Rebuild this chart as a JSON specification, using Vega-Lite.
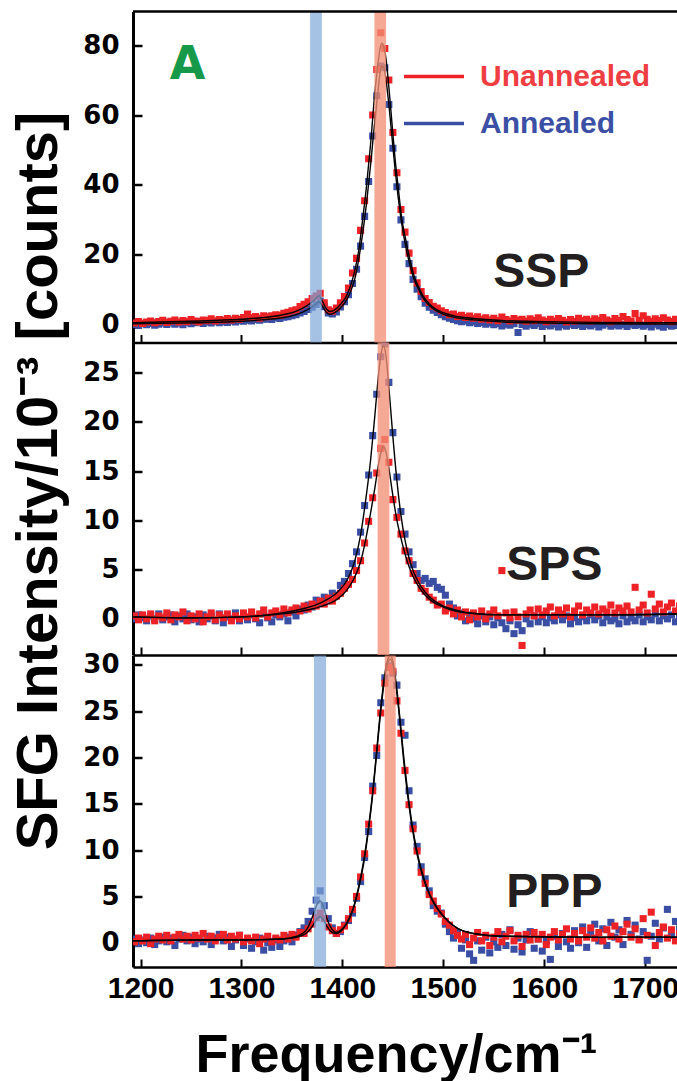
{
"$schema": "https://vega.github.io/schema/vega-lite/v6.json",
"padding": {"left": 9, "top": 9.5, "right": 0, "bottom": 0},
"autosize": {"type": "pad"},
"spacing": 0,
"bounds": "flush",
"resolve": {"legend": {"color": "independent"}},
"config": {
  "font": "Liberation Sans",
  "view": {"stroke": null},
  "axis": {"grid": false, "domainColor": "black", "tickColor": "black", "labelColor": "black", "titleColor": "black", "labelFont": "Liberation Sans", "titleFont": "Liberation Sans"}
},
"datasets": {
"d1": [
{"x":1194,"U":0.5,"A":0.1},{"x":1198,"U":0.9,"A":-0.2},{"x":1202,"U":0.4,"A":0.3},{"x":1206,"U":0.8,"A":0.0},{"x":1210,"U":1.1,"A":0.4},{"x":1214,"U":0.6,"A":-0.1},{"x":1218,"U":0.9,"A":0.2},{"x":1222,"U":1.3,"A":0.5},{"x":1226,"U":0.7,"A":0.1},{"x":1230,"U":1.0,"A":0.6},{"x":1234,"U":1.4,"A":0.2},{"x":1238,"U":0.8,"A":0.5},{"x":1242,"U":1.2,"A":0.0},{"x":1246,"U":0.9,"A":0.7},{"x":1250,"U":1.5,"A":0.3},{"x":1254,"U":1.1,"A":0.6},{"x":1258,"U":0.8,"A":0.9},{"x":1262,"U":1.4,"A":0.4},{"x":1266,"U":1.2,"A":0.8},{"x":1270,"U":1.7,"A":0.5},{"x":1274,"U":1.1,"A":1.0},{"x":1278,"U":1.5,"A":0.6},{"x":1282,"U":1.3,"A":0.9},{"x":1286,"U":1.8,"A":0.7},{"x":1290,"U":1.4,"A":1.1},{"x":1294,"U":1.9,"A":0.8},{"x":1298,"U":1.6,"A":1.2},{"x":1302,"U":2.1,"A":1.0},{"x":1306,"U":3.1,"A":1.3},{"x":1310,"U":2.0,"A":1.1},{"x":1314,"U":2.4,"A":1.5},{"x":1318,"U":1.9,"A":1.3},{"x":1322,"U":2.6,"A":1.6},{"x":1326,"U":2.3,"A":1.7},{"x":1330,"U":2.6,"A":1.5},{"x":1334,"U":2.9,"A":2.0},{"x":1338,"U":2.7,"A":1.8},{"x":1342,"U":3.3,"A":2.2},{"x":1346,"U":3.6,"A":2.3},{"x":1350,"U":4.0,"A":2.6},{"x":1354,"U":4.3,"A":2.9},{"x":1358,"U":5.2,"A":3.4},{"x":1362,"U":5.9,"A":3.8},{"x":1366,"U":6.6,"A":4.4},{"x":1370,"U":7.5,"A":5.0},{"x":1374,"U":8.2,"A":5.8},{"x":1378,"U":9.0,"A":6.8},{"x":1382,"U":6.3,"A":5.2},{"x":1386,"U":4.3,"A":3.4},{"x":1390,"U":3.9,"A":3.1},{"x":1394,"U":4.8,"A":3.7},{"x":1398,"U":6.3,"A":5.1},{"x":1402,"U":8.1,"A":6.6},{"x":1406,"U":10.5,"A":8.6},{"x":1410,"U":14.8,"A":11.8},{"x":1414,"U":19.0,"A":15.9},{"x":1418,"U":27.0,"A":22.5},{"x":1422,"U":35.5,"A":31.0},{"x":1426,"U":47.5,"A":41.0},{"x":1430,"U":60.0,"A":54.0},{"x":1434,"U":73.0,"A":65.5},{"x":1438,"U":83.5,"A":74.0},{"x":1442,"U":79.0,"A":73.5},{"x":1446,"U":70.0,"A":63.0},{"x":1450,"U":55.0,"A":50.5},{"x":1454,"U":43.5,"A":39.5},{"x":1458,"U":33.0,"A":30.0},{"x":1462,"U":26.5,"A":23.0},{"x":1466,"U":20.5,"A":17.5},{"x":1470,"U":15.5,"A":13.0},{"x":1474,"U":12.0,"A":10.2},{"x":1478,"U":9.5,"A":8.0},{"x":1482,"U":7.5,"A":6.2},{"x":1486,"U":6.4,"A":5.0},{"x":1490,"U":5.3,"A":4.2},{"x":1494,"U":4.8,"A":3.5},{"x":1498,"U":4.0,"A":2.9},{"x":1502,"U":3.5,"A":2.3},{"x":1506,"U":2.9,"A":1.9},{"x":1510,"U":3.1,"A":1.5},{"x":1514,"U":2.4,"A":1.2},{"x":1518,"U":2.7,"A":0.9},{"x":1522,"U":2.1,"A":1.1},{"x":1526,"U":2.5,"A":0.6},{"x":1530,"U":1.9,"A":0.8},{"x":1534,"U":2.3,"A":0.4},{"x":1538,"U":1.6,"A":0.7},{"x":1542,"U":2.0,"A":0.2},{"x":1546,"U":1.4,"A":0.5},{"x":1550,"U":1.9,"A":0.0},{"x":1554,"U":1.2,"A":0.4},{"x":1558,"U":2.2,"A":-0.3},{"x":1562,"U":1.5,"A":0.2},{"x":1566,"U":1.1,"A":-0.1},{"x":1570,"U":1.8,"A":0.3},{"x":1574,"U":1.3,"A":-2.2},{"x":1578,"U":1.6,"A":0.1},{"x":1582,"U":1.0,"A":-0.4},{"x":1586,"U":1.7,"A":0.2},{"x":1590,"U":1.2,"A":-0.2},{"x":1594,"U":2.0,"A":0.3},{"x":1598,"U":1.4,"A":-0.5},{"x":1602,"U":0.9,"A":0.1},{"x":1606,"U":1.6,"A":-0.3},{"x":1610,"U":1.1,"A":0.2},{"x":1614,"U":1.8,"A":-0.6},{"x":1618,"U":1.3,"A":0.0},{"x":1622,"U":0.8,"A":-0.4},{"x":1626,"U":1.5,"A":0.2},{"x":1630,"U":1.0,"A":-0.2},{"x":1634,"U":1.9,"A":0.1},{"x":1638,"U":1.2,"A":-0.5},{"x":1642,"U":1.6,"A":0.0},{"x":1646,"U":1.0,"A":-0.3},{"x":1650,"U":1.7,"A":0.2},{"x":1654,"U":1.3,"A":-0.6},{"x":1658,"U":2.1,"A":-0.1},{"x":1662,"U":1.4,"A":0.3},{"x":1666,"U":0.9,"A":-0.4},{"x":1670,"U":1.8,"A":0.0},{"x":1674,"U":1.2,"A":-0.3},{"x":1678,"U":2.4,"A":0.1},{"x":1682,"U":1.5,"A":-0.5},{"x":1686,"U":1.1,"A":0.2},{"x":1690,"U":3.2,"A":-0.2},{"x":1694,"U":1.3,"A":0.1},{"x":1698,"U":2.6,"A":-0.4},{"x":1702,"U":1.6,"A":0.0},{"x":1706,"U":1.0,"A":-0.6},{"x":1710,"U":1.7,"A":0.2},{"x":1714,"U":1.2,"A":-0.3},{"x":1718,"U":2.0,"A":-0.7},{"x":1722,"U":1.4,"A":0.1},{"x":1726,"U":0.9,"A":-0.4},{"x":1730,"U":1.6,"A":-0.2},{"x":1734,"U":1.2,"A":0.0}
],
"f1": [
{"x":1192,"U":0.6,"A":0.3},{"x":1220,"U":0.8,"A":0.4},{"x":1260,"U":1.1,"A":0.6},{"x":1300,"U":1.6,"A":1.0},{"x":1320,"U":2.0,"A":1.4},{"x":1340,"U":2.8,"A":2.0},{"x":1355,"U":4.0,"A":3.0},{"x":1365,"U":5.5,"A":4.3},{"x":1372,"U":7.0,"A":5.5},{"x":1377,"U":8.3,"A":6.6},{"x":1380,"U":6.8,"A":5.4},{"x":1384,"U":4.6,"A":3.6},{"x":1388,"U":3.8,"A":3.0},{"x":1392,"U":4.2,"A":3.4},{"x":1398,"U":5.8,"A":4.8},{"x":1404,"U":8.2,"A":7.0},{"x":1410,"U":13.0,"A":11.0},{"x":1413,"U":16.5,"A":14.0},{"x":1416,"U":21,"A":18.5},{"x":1420,"U":30,"A":26},{"x":1424,"U":40,"A":35},{"x":1428,"U":52,"A":46},{"x":1432,"U":66,"A":58},{"x":1435,"U":74,"A":66},{"x":1437,"U":78.5,"A":71.5},{"x":1439,"U":80.5,"A":74},{"x":1441,"U":79.5,"A":73.5},{"x":1443,"U":76.5,"A":70.5},{"x":1446,"U":68,"A":63},{"x":1449,"U":58,"A":54},{"x":1452,"U":48,"A":45},{"x":1455,"U":40,"A":37},{"x":1459,"U":30,"A":28.5},{"x":1463,"U":24,"A":22},{"x":1467,"U":18.5,"A":17},{"x":1471,"U":14,"A":13},{"x":1476,"U":10.5,"A":9.8},{"x":1480,"U":8.2,"A":7.6},{"x":1486,"U":6.0,"A":5.5},{"x":1492,"U":4.6,"A":4.2},{"x":1498,"U":3.7,"A":3.3},{"x":1510,"U":2.6,"A":2.2},{"x":1530,"U":1.8,"A":1.4},{"x":1560,"U":1.2,"A":0.8},{"x":1600,"U":0.9,"A":0.5},{"x":1650,"U":0.7,"A":0.3},{"x":1735,"U":0.6,"A":0.2}
],
"d2": [
{"x":1194,"U":0.3,"A":0.0},{"x":1198,"U":-0.1,"A":0.4},{"x":1202,"U":0.4,"A":0.1},{"x":1206,"U":0.0,"A":-0.2},{"x":1210,"U":0.5,"A":0.3},{"x":1214,"U":-0.2,"A":0.0},{"x":1218,"U":0.3,"A":0.5},{"x":1222,"U":0.1,"A":-0.1},{"x":1226,"U":0.6,"A":0.2},{"x":1230,"U":-0.1,"A":0.4},{"x":1234,"U":0.4,"A":-0.3},{"x":1238,"U":0.2,"A":0.3},{"x":1242,"U":0.7,"A":0.0},{"x":1246,"U":-0.2,"A":0.5},{"x":1250,"U":0.3,"A":-0.1},{"x":1254,"U":0.0,"A":0.2},{"x":1258,"U":0.5,"A":-0.3},{"x":1262,"U":-0.3,"A":0.4},{"x":1266,"U":0.2,"A":0.0},{"x":1270,"U":0.6,"A":0.3},{"x":1274,"U":-0.1,"A":-0.2},{"x":1278,"U":0.4,"A":0.5},{"x":1282,"U":0.1,"A":-0.4},{"x":1286,"U":0.5,"A":0.2},{"x":1290,"U":-0.2,"A":0.0},{"x":1294,"U":0.3,"A":0.6},{"x":1298,"U":0.0,"A":-0.2},{"x":1302,"U":0.6,"A":0.3},{"x":1306,"U":0.2,"A":-0.1},{"x":1310,"U":0.7,"A":0.4},{"x":1314,"U":0.1,"A":0.0},{"x":1318,"U":0.5,"A":-0.4},{"x":1322,"U":0.9,"A":0.5},{"x":1326,"U":0.2,"A":0.1},{"x":1330,"U":0.6,"A":-0.3},{"x":1334,"U":0.8,"A":0.4},{"x":1338,"U":0.4,"A":0.2},{"x":1342,"U":1.0,"A":0.5},{"x":1346,"U":0.6,"A":-0.2},{"x":1350,"U":0.9,"A":0.7},{"x":1354,"U":1.1,"A":0.3},{"x":1358,"U":0.8,"A":1.0},{"x":1362,"U":1.3,"A":0.9},{"x":1366,"U":1.0,"A":1.4},{"x":1370,"U":1.5,"A":1.2},{"x":1374,"U":1.3,"A":1.9},{"x":1378,"U":1.8,"A":1.6},{"x":1382,"U":1.5,"A":2.2},{"x":1386,"U":2.1,"A":2.0},{"x":1390,"U":1.8,"A":2.6},{"x":1394,"U":2.3,"A":2.4},{"x":1398,"U":2.6,"A":3.4},{"x":1402,"U":3.1,"A":3.8},{"x":1406,"U":3.5,"A":4.6},{"x":1410,"U":4.0,"A":5.6},{"x":1414,"U":4.9,"A":6.8},{"x":1418,"U":5.9,"A":8.8},{"x":1422,"U":7.7,"A":11.5},{"x":1426,"U":9.9,"A":14.6},{"x":1430,"U":12.3,"A":18.6},{"x":1434,"U":14.8,"A":22.8},{"x":1438,"U":17.3,"A":26.6},{"x":1442,"U":18.2,"A":27.9},{"x":1446,"U":15.9,"A":24.0},{"x":1450,"U":12.1,"A":18.9},{"x":1454,"U":10.3,"A":14.4},{"x":1458,"U":8.6,"A":10.9},{"x":1462,"U":6.9,"A":8.6},{"x":1466,"U":5.9,"A":6.8},{"x":1470,"U":4.6,"A":5.5},{"x":1474,"U":3.9,"A":4.6},{"x":1478,"U":3.1,"A":3.9},{"x":1482,"U":2.8,"A":4.1},{"x":1486,"U":2.2,"A":3.6},{"x":1490,"U":1.9,"A":3.8},{"x":1494,"U":1.4,"A":3.2},{"x":1498,"U":1.5,"A":3.0},{"x":1502,"U":0.8,"A":2.4},{"x":1506,"U":1.1,"A":1.5},{"x":1510,"U":0.5,"A":1.1},{"x":1514,"U":0.9,"A":0.3},{"x":1518,"U":0.2,"A":0.6},{"x":1522,"U":0.7,"A":-0.2},{"x":1526,"U":-0.1,"A":0.4},{"x":1530,"U":0.6,"A":0.0},{"x":1534,"U":0.2,"A":-0.5},{"x":1538,"U":0.8,"A":0.3},{"x":1542,"U":0.0,"A":-0.3},{"x":1546,"U":0.5,"A":0.2},{"x":1550,"U":0.9,"A":-0.6},{"x":1554,"U":0.3,"A":0.1},{"x":1558,"U":4.9,"A":-0.4},{"x":1562,"U":0.6,"A":-1.0},{"x":1566,"U":0.1,"A":-0.2},{"x":1570,"U":0.7,"A":-1.5},{"x":1574,"U":0.2,"A":-0.6},{"x":1578,"U":-2.7,"A":-1.2},{"x":1582,"U":0.5,"A":0.0},{"x":1586,"U":0.9,"A":-0.5},{"x":1590,"U":0.3,"A":0.3},{"x":1594,"U":1.0,"A":-0.3},{"x":1598,"U":0.4,"A":0.2},{"x":1602,"U":0.8,"A":-0.4},{"x":1606,"U":1.2,"A":0.1},{"x":1610,"U":0.3,"A":-0.2},{"x":1614,"U":0.9,"A":0.4},{"x":1618,"U":0.5,"A":-0.1},{"x":1622,"U":1.1,"A":0.3},{"x":1626,"U":0.2,"A":-0.5},{"x":1630,"U":0.8,"A":0.1},{"x":1634,"U":1.3,"A":-0.3},{"x":1638,"U":0.4,"A":0.2},{"x":1642,"U":0.9,"A":-0.2},{"x":1646,"U":0.6,"A":0.4},{"x":1650,"U":1.2,"A":-0.1},{"x":1654,"U":0.5,"A":0.3},{"x":1658,"U":1.0,"A":-0.4},{"x":1662,"U":0.7,"A":0.2},{"x":1666,"U":1.4,"A":-0.2},{"x":1670,"U":0.6,"A":0.0},{"x":1674,"U":1.1,"A":-0.5},{"x":1678,"U":0.8,"A":0.3},{"x":1682,"U":1.3,"A":-0.3},{"x":1686,"U":0.7,"A":0.1},{"x":1690,"U":3.2,"A":-0.2},{"x":1694,"U":0.9,"A":0.4},{"x":1698,"U":1.4,"A":-0.3},{"x":1702,"U":0.6,"A":0.2},{"x":1706,"U":2.5,"A":-0.1},{"x":1710,"U":1.0,"A":0.5},{"x":1714,"U":1.5,"A":-0.2},{"x":1718,"U":0.7,"A":0.3},{"x":1722,"U":1.2,"A":0.0},{"x":1726,"U":1.6,"A":0.4},{"x":1730,"U":0.8,"A":-0.3},{"x":1734,"U":1.3,"A":0.2}
],
"f2": [
{"x":1192,"U":0.2,"A":0.2},{"x":1250,"U":0.1,"A":0.1},{"x":1300,"U":0.2,"A":0.2},{"x":1340,"U":0.5,"A":0.6},{"x":1360,"U":0.8,"A":1.0},{"x":1380,"U":1.3,"A":1.7},{"x":1395,"U":2.0,"A":2.7},{"x":1405,"U":3.0,"A":4.0},{"x":1412,"U":4.2,"A":5.8},{"x":1418,"U":5.8,"A":8.5},{"x":1423,"U":8.0,"A":12.0},{"x":1428,"U":10.8,"A":16.2},{"x":1432,"U":13.2,"A":20.5},{"x":1436,"U":15.8,"A":25.0},{"x":1438.5,"U":17.0,"A":27.0},{"x":1440.5,"U":17.5,"A":27.7},{"x":1443,"U":17.0,"A":26.8},{"x":1446,"U":15.3,"A":23.5},{"x":1450,"U":12.5,"A":18.5},{"x":1454,"U":10.0,"A":14.0},{"x":1458,"U":8.2,"A":10.5},{"x":1462,"U":6.6,"A":8.0},{"x":1466,"U":5.3,"A":6.2},{"x":1470,"U":4.3,"A":4.9},{"x":1476,"U":3.2,"A":3.6},{"x":1482,"U":2.4,"A":2.7},{"x":1490,"U":1.7,"A":1.9},{"x":1500,"U":1.2,"A":1.3},{"x":1512,"U":0.8,"A":0.9},{"x":1525,"U":0.6,"A":0.6},{"x":1560,"U":0.4,"A":0.4},{"x":1650,"U":0.4,"A":0.4},{"x":1735,"U":0.5,"A":0.5}
],
"d3": [
{"x":1194,"U":0.1,"A":0.4},{"x":1198,"U":0.5,"A":-0.1},{"x":1202,"U":0.2,"A":0.3},{"x":1206,"U":0.6,"A":0.0},{"x":1210,"U":-0.1,"A":0.5},{"x":1214,"U":0.4,"A":-0.2},{"x":1218,"U":0.7,"A":0.2},{"x":1222,"U":0.3,"A":0.6},{"x":1226,"U":0.8,"A":0.1},{"x":1230,"U":0.2,"A":0.5},{"x":1234,"U":0.6,"A":-0.3},{"x":1238,"U":0.9,"A":0.4},{"x":1242,"U":0.4,"A":0.8},{"x":1246,"U":0.7,"A":0.2},{"x":1250,"U":0.3,"A":0.6},{"x":1254,"U":0.8,"A":-0.1},{"x":1258,"U":0.5,"A":0.4},{"x":1262,"U":1.0,"A":0.1},{"x":1266,"U":0.4,"A":0.7},{"x":1270,"U":0.7,"A":-0.2},{"x":1274,"U":0.2,"A":0.5},{"x":1278,"U":0.6,"A":0.9},{"x":1282,"U":0.9,"A":0.2},{"x":1286,"U":0.3,"A":0.6},{"x":1290,"U":0.7,"A":-0.4},{"x":1294,"U":0.4,"A":0.3},{"x":1298,"U":0.8,"A":0.8},{"x":1302,"U":0.1,"A":-0.3},{"x":1306,"U":0.5,"A":0.4},{"x":1310,"U":0.2,"A":-0.6},{"x":1314,"U":0.6,"A":0.1},{"x":1318,"U":-0.1,"A":0.5},{"x":1322,"U":0.4,"A":-0.8},{"x":1326,"U":0.7,"A":0.0},{"x":1330,"U":0.1,"A":-0.5},{"x":1334,"U":0.5,"A":0.3},{"x":1338,"U":0.3,"A":-0.4},{"x":1342,"U":0.8,"A":0.2},{"x":1346,"U":0.4,"A":0.6},{"x":1350,"U":0.9,"A":0.1},{"x":1354,"U":0.6,"A":0.8},{"x":1358,"U":1.1,"A":1.2},{"x":1362,"U":1.0,"A":1.6},{"x":1366,"U":1.5,"A":2.3},{"x":1370,"U":2.0,"A":3.4},{"x":1374,"U":2.7,"A":4.6},{"x":1378,"U":3.2,"A":5.6},{"x":1382,"U":2.6,"A":4.0},{"x":1386,"U":1.7,"A":2.6},{"x":1390,"U":1.3,"A":1.6},{"x":1394,"U":1.0,"A":1.0},{"x":1398,"U":1.4,"A":1.2},{"x":1402,"U":1.8,"A":1.9},{"x":1406,"U":2.6,"A":2.4},{"x":1410,"U":3.6,"A":3.2},{"x":1414,"U":5.0,"A":4.8},{"x":1418,"U":7.1,"A":6.6},{"x":1422,"U":9.6,"A":9.2},{"x":1426,"U":12.8,"A":12.0},{"x":1430,"U":16.4,"A":16.9},{"x":1434,"U":21.0,"A":20.2},{"x":1438,"U":24.8,"A":25.9},{"x":1442,"U":28.0,"A":28.6},{"x":1446,"U":29.7,"A":29.9},{"x":1450,"U":29.3,"A":29.1},{"x":1454,"U":26.1,"A":27.8},{"x":1458,"U":22.6,"A":23.8},{"x":1462,"U":18.6,"A":22.4},{"x":1466,"U":14.9,"A":16.4},{"x":1470,"U":12.3,"A":12.7},{"x":1474,"U":9.9,"A":10.4},{"x":1478,"U":7.6,"A":8.2},{"x":1482,"U":6.4,"A":6.9},{"x":1486,"U":5.2,"A":5.6},{"x":1490,"U":4.5,"A":4.0},{"x":1494,"U":3.7,"A":3.4},{"x":1498,"U":3.1,"A":3.2},{"x":1502,"U":2.3,"A":2.0},{"x":1506,"U":1.9,"A":1.2},{"x":1510,"U":1.3,"A":0.5},{"x":1514,"U":0.8,"A":1.1},{"x":1518,"U":0.4,"A":-0.6},{"x":1522,"U":0.9,"A":0.3},{"x":1526,"U":-0.2,"A":-1.2},{"x":1530,"U":0.5,"A":-1.9},{"x":1534,"U":1.1,"A":0.2},{"x":1538,"U":0.2,"A":-0.8},{"x":1542,"U":0.8,"A":0.6},{"x":1546,"U":-0.3,"A":-1.1},{"x":1550,"U":0.6,"A":0.1},{"x":1554,"U":1.2,"A":-0.5},{"x":1558,"U":0.1,"A":0.9},{"x":1562,"U":0.7,"A":-0.3},{"x":1566,"U":1.3,"A":1.4},{"x":1570,"U":0.2,"A":-0.7},{"x":1574,"U":0.8,"A":0.5},{"x":1578,"U":-0.4,"A":-1.0},{"x":1582,"U":0.9,"A":0.3},{"x":1586,"U":0.3,"A":1.2},{"x":1590,"U":1.1,"A":-0.6},{"x":1594,"U":0.4,"A":0.4},{"x":1598,"U":0.9,"A":-0.9},{"x":1602,"U":-0.2,"A":0.2},{"x":1606,"U":0.6,"A":-1.8},{"x":1610,"U":1.2,"A":0.7},{"x":1614,"U":0.3,"A":-0.4},{"x":1618,"U":0.9,"A":1.0},{"x":1622,"U":1.5,"A":0.1},{"x":1626,"U":0.4,"A":-0.6},{"x":1630,"U":1.0,"A":1.3},{"x":1634,"U":0.2,"A":0.0},{"x":1638,"U":1.3,"A":1.7},{"x":1642,"U":0.6,"A":-0.5},{"x":1646,"U":1.6,"A":0.9},{"x":1650,"U":0.5,"A":2.0},{"x":1654,"U":1.1,"A":0.2},{"x":1658,"U":0.2,"A":1.5},{"x":1662,"U":1.4,"A":-0.3},{"x":1666,"U":0.7,"A":2.2},{"x":1670,"U":1.8,"A":0.6},{"x":1674,"U":0.4,"A":1.4},{"x":1678,"U":1.2,"A":-0.2},{"x":1682,"U":2.0,"A":2.4},{"x":1686,"U":0.6,"A":0.9},{"x":1690,"U":1.5,"A":1.9},{"x":1694,"U":0.3,"A":0.4},{"x":1698,"U":2.6,"A":1.2},{"x":1702,"U":0.8,"A":-1.9},{"x":1706,"U":3.3,"A":0.7},{"x":1710,"U":-0.3,"A":2.1},{"x":1714,"U":1.1,"A":0.4},{"x":1718,"U":1.7,"A":1.6},{"x":1722,"U":0.5,"A":3.6},{"x":1726,"U":1.4,"A":0.8},{"x":1730,"U":0.2,"A":2.3},{"x":1734,"U":1.0,"A":1.5}
],
"f3": [
{"x":1192,"U":0.2,"A":0.2},{"x":1250,"U":0.3,"A":0.3},{"x":1300,"U":0.3,"A":0.3},{"x":1340,"U":0.4,"A":0.4},{"x":1355,"U":0.6,"A":0.7},{"x":1365,"U":1.1,"A":1.5},{"x":1371,"U":1.9,"A":3.0},{"x":1375,"U":2.6,"A":4.2},{"x":1378,"U":2.8,"A":4.5},{"x":1381,"U":2.5,"A":3.9},{"x":1385,"U":1.7,"A":2.5},{"x":1390,"U":1.1,"A":1.4},{"x":1394,"U":1.0,"A":1.1},{"x":1398,"U":1.2,"A":1.3},{"x":1404,"U":2.0,"A":2.1},{"x":1410,"U":3.4,"A":3.5},{"x":1416,"U":5.8,"A":6.0},{"x":1421,"U":8.5,"A":8.8},{"x":1426,"U":12.3,"A":12.6},{"x":1430,"U":16.0,"A":16.3},{"x":1434,"U":20.5,"A":20.8},{"x":1438,"U":25.0,"A":25.4},{"x":1442,"U":28.6,"A":29.0},{"x":1445,"U":30.2,"A":30.6},{"x":1447.5,"U":30.6,"A":31.0},{"x":1450,"U":30.0,"A":30.4},{"x":1453,"U":27.8,"A":28.2},{"x":1457,"U":23.8,"A":24.2},{"x":1461,"U":19.3,"A":19.8},{"x":1465,"U":15.6,"A":16.0},{"x":1469,"U":12.5,"A":12.8},{"x":1474,"U":9.5,"A":9.8},{"x":1480,"U":7.0,"A":7.2},{"x":1487,"U":5.0,"A":5.1},{"x":1495,"U":3.5,"A":3.6},{"x":1505,"U":2.3,"A":2.3},{"x":1515,"U":1.5,"A":1.5},{"x":1530,"U":1.0,"A":1.0},{"x":1560,"U":0.7,"A":0.7},{"x":1650,"U":0.6,"A":0.6},{"x":1735,"U":0.6,"A":0.6}
]
},
"vconcat": [
{
"width": 545, "height": 331,
"layer": [
{"data": {"name": "d1"}, "transform": [{"fold": ["A", "U"], "as": ["k", "v"]}],
 "mark": {"type": "square", "size": 50, "opacity": 1, "clip": true},
 "encoding": {
  "x": {"field": "x", "type": "quantitative", "scale": {"domain": [1192.5, 1732.5], "nice": false, "zero": false},
        "axis": {"values": [1200,1300,1400,1500,1600,1700], "labels": false, "title": null, "tickSize": -8, "tickWidth": 2, "domainWidth": 2.5}},
  "y": {"field": "v", "type": "quantitative", "scale": {"domain": [-5.06, 89.6], "nice": false, "zero": false},
        "axis": {"values": [0,20,40,60,80], "title": null, "tickSize": -9, "tickWidth": 2.5, "domainWidth": 3, "labelFont": "DejaVu Sans", "labelFontSize": 26, "labelFontWeight": "bold", "labelPadding": 23}},
  "color": {"field": "k", "type": "nominal", "scale": {"domain": ["U", "A"], "range": ["#ec2227", "#3a4fa4"]},
        "legend": {"orient": "none", "legendX": 269, "legendY": 33, "title": null, "symbolType": "stroke", "symbolSize": 3600, "symbolStrokeWidth": 3.5,
          "symbolStrokeColor": {"expr": "datum.value == 'U' ? '#ec2227' : '#3a4fa4'"},
          "labelColor": {"expr": "datum.value == 'U' ? '#ef3e42' : '#3b4fa5'"},
          "labelFontSize": 30, "labelFontWeight": "bold", "labelFont": "Liberation Sans", "labelOffset": 14, "labelLimit": 400, "rowPadding": -13, "padding": 0,
          "labelExpr": "datum.value == 'U' ? 'Unannealed' : 'Annealed'"}},
  "order": {"field": "k", "sort": "ascending"}
 }},
{"data": {"name": "f1"}, "transform": [{"fold": ["A", "U"], "as": ["k", "v"]}],
 "mark": {"type": "line", "color": "black", "strokeWidth": 1.4, "interpolate": "monotone", "clip": true},
 "encoding": {"x": {"field": "x", "type": "quantitative"}, "y": {"field": "v", "type": "quantitative"}, "detail": {"field": "k"}}},
{"data": {"values": [{}]}, "mark": {"type": "rect", "color": "#7fa6d8", "opacity": 0.7},
 "encoding": {"x": {"datum": 1368}, "x2": {"datum": 1379.6}}},
{"data": {"values": [{}]}, "mark": {"type": "rect", "color": "#f28f76", "opacity": 0.78},
 "encoding": {"x": {"datum": 1431.7}, "x2": {"datum": 1443.3}}},
{"data": {"values": [{}]}, "mark": {"type": "rule", "color": "black", "strokeWidth": 2.5},
 "encoding": {"y": {"datum": 89.6}}},
{"data": {"values": [{}]}, "mark": {"type": "text", "text": "A", "font": "DejaVu Sans", "fontWeight": "bold", "fontSize": 46, "color": "#169a4a", "align": "center", "baseline": "alphabetic"},
 "encoding": {"x": {"datum": 1246.6}, "y": {"datum": 70.3}}},
{"data": {"values": [{}]}, "mark": {"type": "text", "text": "SSP", "font": "Liberation Sans", "fontWeight": "bold", "fontSize": 48, "color": "#231f20", "align": "center", "baseline": "alphabetic"},
 "encoding": {"x": {"datum": 1597}, "y": {"datum": 10.7}}}
]
},
{
"width": 545, "height": 312.5,
"layer": [
{"data": {"name": "d2"}, "transform": [{"fold": ["A", "U"], "as": ["k", "v"]}],
 "mark": {"type": "square", "size": 50, "opacity": 1, "clip": true},
 "encoding": {
  "x": {"field": "x", "type": "quantitative", "scale": {"domain": [1192.5, 1732.5], "nice": false, "zero": false},
        "axis": {"values": [1200,1300,1400,1500,1600,1700], "labels": false, "title": null, "tickSize": -8, "tickWidth": 2, "domainWidth": 2.5}},
  "y": {"field": "v", "type": "quantitative", "scale": {"domain": [-3.67, 28.05], "nice": false, "zero": false},
        "axis": {"values": [0,5,10,15,20,25], "tickSize": -9, "tickWidth": 2.5, "domainWidth": 3, "labelFont": "DejaVu Sans", "labelFontSize": 26, "labelFontWeight": "bold", "labelPadding": 23,
                 "title": "SFG Intensity/10⁻³ [counts]", "titleFontSize": 58, "titleFontWeight": "bold", "titleAngle": 270, "titleAlign": "center", "titleBaseline": "alphabetic", "titleX": -77, "titleY": 138}},
  "color": {"field": "k", "type": "nominal", "scale": {"domain": ["U", "A"], "range": ["#ec2227", "#3a4fa4"]}, "legend": null},
  "order": {"field": "k", "sort": "ascending"}
 }},
{"data": {"name": "f2"}, "transform": [{"fold": ["A", "U"], "as": ["k", "v"]}],
 "mark": {"type": "line", "color": "black", "strokeWidth": 1.4, "interpolate": "monotone", "clip": true},
 "encoding": {"x": {"field": "x", "type": "quantitative"}, "y": {"field": "v", "type": "quantitative"}, "detail": {"field": "k"}}},
{"data": {"values": [{}]}, "mark": {"type": "rect", "color": "#f28f76", "opacity": 0.78},
 "encoding": {"x": {"datum": 1434.9}, "x2": {"datum": 1446.5}}},
{"data": {"values": [{}]}, "mark": {"type": "text", "text": "SPS", "font": "Liberation Sans", "fontWeight": "bold", "fontSize": 48, "color": "#231f20", "align": "center", "baseline": "alphabetic"},
 "encoding": {"x": {"datum": 1610}, "y": {"datum": 3.9}}}
]
},
{
"width": 545, "height": 311.5,
"layer": [
{"data": {"name": "d3"}, "transform": [{"fold": ["A", "U"], "as": ["k", "v"]}],
 "mark": {"type": "square", "size": 50, "opacity": 1, "clip": true},
 "encoding": {
  "x": {"field": "x", "type": "quantitative", "scale": {"domain": [1192.5, 1732.5], "nice": false, "zero": false},
        "axis": {"values": [1200,1300,1400,1500,1600,1700], "format": "d", "tickSize": -8, "tickWidth": 2, "domainWidth": 2.5, "labelFontSize": 30, "labelFontWeight": "bold", "labelPadding": 14,
                 "title": "Frequency/cm⁻¹", "titleFontSize": 54, "titleFontWeight": "bold", "titleBaseline": "alphabetic", "titleX": 263, "titleY": 104}},
  "y": {"field": "v", "type": "quantitative", "scale": {"domain": [-2.62, 31.0], "nice": false, "zero": false},
        "axis": {"values": [0,5,10,15,20,25,30], "title": null, "tickSize": -9, "tickWidth": 2.5, "domainWidth": 3, "labelFont": "DejaVu Sans", "labelFontSize": 26, "labelFontWeight": "bold", "labelPadding": 23}},
  "color": {"field": "k", "type": "nominal", "scale": {"domain": ["U", "A"], "range": ["#ec2227", "#3a4fa4"]}, "legend": null},
  "order": {"field": "k", "sort": "ascending"}
 }},
{"data": {"name": "f3"}, "transform": [{"fold": ["A", "U"], "as": ["k", "v"]}],
 "mark": {"type": "line", "color": "black", "strokeWidth": 1.4, "interpolate": "monotone", "clip": true},
 "encoding": {"x": {"field": "x", "type": "quantitative"}, "y": {"field": "v", "type": "quantitative"}, "detail": {"field": "k"}}},
{"data": {"values": [{}]}, "mark": {"type": "rect", "color": "#7fa6d8", "opacity": 0.7},
 "encoding": {"x": {"datum": 1371.8}, "x2": {"datum": 1383.8}}},
{"data": {"values": [{}]}, "mark": {"type": "rect", "color": "#f28f76", "opacity": 0.78},
 "encoding": {"x": {"datum": 1441.9}, "x2": {"datum": 1452.8}}},
{"data": {"values": [{}]}, "mark": {"type": "text", "text": "PPP", "font": "Liberation Sans", "fontWeight": "bold", "fontSize": 48, "color": "#231f20", "align": "center", "baseline": "alphabetic"},
 "encoding": {"x": {"datum": 1610}, "y": {"datum": 3.9}}}
]
}
]
}
